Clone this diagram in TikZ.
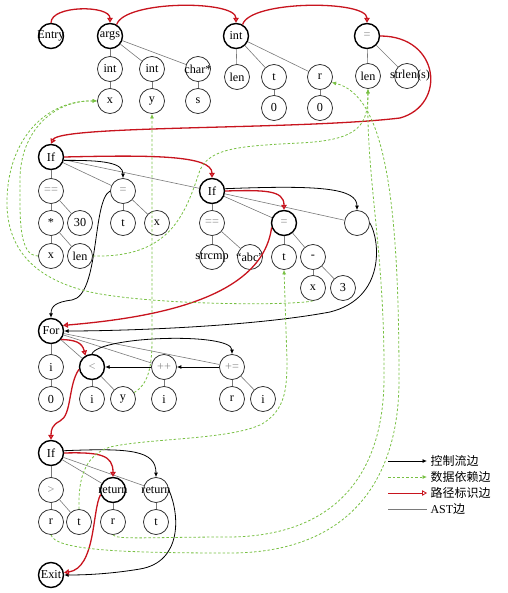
\documentclass[tikz,border=0pt]{standalone}
\usepackage{fontspec}
\setmainfont{Liberation Serif}
\newfontfamily\cjk{Noto Sans CJK SC}
\usetikzlibrary{arrows.meta,positioning}
\definecolor{pathred}{HTML}{C8141E}
\definecolor{depgreen}{HTML}{78C043}
\definecolor{astgray}{HTML}{7A7A7A}
\definecolor{opgray}{HTML}{8C8C8C}
\newcommand{\wide}[1]{\makebox[0pt]{#1}}

\begin{document}
\begin{tikzpicture}[x=1pt,y=-1pt,font=\fontsize{12.2}{13}\selectfont,nd/.style={circle,draw=black!85,line width=.75pt,minimum size=25pt,inner sep=0pt,fill=white},onpath/.style={nd,draw=black,line width=1.4pt},op/.style={text=opgray},ast/.style={astgray,line width=.6pt},ctrl/.style={-{Latex[length=4.5pt,width=4pt]},line width=.8pt},dep/.style={-{Latex[length=4.5pt,width=4pt]},depgreen,line width=.8pt,dash pattern=on 2.5pt off 2pt},route/.style={-{Triangle[open,length=5pt,width=5.5pt]},pathred,line width=1.3pt},legend/.style={anchor=west,font=\cjk\fontsize{12}{13}\selectfont}]
 \useasboundingbox (0,0) rectangle (507,593);
 % declarations
 \node[onpath] (entry) at (51,36) {\wide{Entry}}; \node[onpath] (args) at (110,36) {args};
 \node[onpath] (dint) at (236,36) {int}; \node[onpath,op] (deq) at (367,36) {=};
 \node[nd] (ai1) at (110,69) {int}; \node[nd] (ai2) at (152,69) {int}; \node[nd] (achr) at (198,69) {\wide{char*}};
 \node[nd] (ax) at (110,101) {x}; \node[nd] (ay) at (152,101) {y}; \node[nd] (asv) at (198,101) {s};
 \node[nd] (dlen) at (237,77) {len}; \node[nd] (dt) at (274,77) {t}; \node[nd] (dr) at (320,77) {r};
 \node[nd] (dt0) at (274,108) {0}; \node[nd] (dr0) at (320,108) {0};
 \node[nd] (elen) at (368,76) {len}; \node[nd] (estr) at (407,76) {\wide{\hspace{6pt}strlen(s)}};
 % if blocks
 \node[onpath] (if1) at (51,157) {If};
 \node[nd,op] (c1eq) at (51,191) {==}; \node[nd,op] (as1) at (123,191) {=}; \node[onpath] (if2) at (212,191) {If};
 \node[nd] (c1mul) at (51,223) {*}; \node[nd] (c1n) at (80,223) {30}; \node[nd] (as1t) at (123,223) {t}; \node[nd] (as1x) at (157,223) {x};
 \node[nd] (c1x) at (51,256) {x}; \node[nd] (c1len) at (80,256) {len};
 \node[nd,op] (c2eq) at (212,223) {==}; \node[onpath,op] (as2) at (284,223) {=}; \node[nd] (emp) at (357,223) {};
 \node[nd] (c2cmp) at (212,257) {\wide{strcmp}}; \node[nd] (c2abc) at (250,257) {\wide{“abc”}};
 \node[nd] (as2t) at (284,257) {t}; \node[nd] (as2m) at (313,257) {-};
 \node[nd] (as2x) at (313,288) {x}; \node[nd] (as2n) at (343,288) {3};
 % loop
 \node[onpath] (for) at (51,331) {For};
 \node[nd] (fi) at (51,367) {i}; \node[onpath,op] (lt) at (92,367) {<}; \node[nd,op] (inc) at (164,367) {++}; \node[nd,op] (pe) at (232,367) {+=};
 \node[nd] (fi0) at (51,399) {0}; \node[nd] (lti) at (92,399) {i}; \node[nd] (lty) at (123,399) {y};
 \node[nd] (inci) at (164,399) {i}; \node[nd] (per) at (232,399) {r}; \node[nd] (pei) at (263,399) {i};
 % return
 \node[onpath] (if3) at (51,453) {If};
 \node[nd,op] (gt) at (51,490) {>}; \node[onpath] (ret1) at (113,490) {\wide{return}}; \node[nd] (ret2) at (156,490) {\wide{return}};
 \node[nd] (gtr) at (51,522) {r}; \node[nd] (gtt) at (79,522) {t}; \node[nd] (ret1r) at (113,522) {r}; \node[nd] (ret2t) at (156,522) {t};
 \node[onpath] (exit) at (51,575) {\wide{Exit}};
 % AST edges
 \draw[ast] (args)--(ai1); \draw[ast] (args)--(ai2); \draw[ast] (args)--(achr); \draw[ast] (ai1)--(ax); \draw[ast] (ai2)--(ay); \draw[ast] (achr)--(asv);
 \draw[ast] (dint)--(dlen); \draw[ast] (dint)--(dt); \draw[ast] (dint)--(dr); \draw[ast] (dt)--(dt0); \draw[ast] (dr)--(dr0);
 \draw[ast] (deq)--(elen); \draw[ast] (deq)--(estr);
 \draw[ast] (if1)--(c1eq); \draw[ast] (if1)--(as1); \draw[ast] (if1)--(if2); \draw[ast] (c1eq)--(c1mul); \draw[ast] (c1eq)--(c1n);
 \draw[ast] (c1mul)--(c1x); \draw[ast] (c1mul)--(c1len); \draw[ast] (as1)--(as1t); \draw[ast] (as1)--(as1x);
 \draw[ast] (if2)--(c2eq); \draw[ast] (if2)--(as2); \draw[ast] (if2)--(emp); \draw[ast] (c2eq)--(c2cmp); \draw[ast] (c2eq)--(c2abc);
 \draw[ast] (as2)--(as2t); \draw[ast] (as2)--(as2m); \draw[ast] (as2m)--(as2x); \draw[ast] (as2m)--(as2n);
 \draw[ast] (for)--(fi); \draw[ast] (for)--(lt); \draw[ast] (for)--(inc); \draw[ast] (for)--(pe); \draw[ast] (fi)--(fi0);
 \draw[ast] (lt)--(lti); \draw[ast] (lt)--(lty); \draw[ast] (inc)--(inci); \draw[ast] (pe)--(per); \draw[ast] (pe)--(pei);
 \draw[ast] (if3)--(gt); \draw[ast] (if3)--(ret1); \draw[ast] (if3)--(ret2); \draw[ast] (gt)--(gtr); \draw[ast] (gt)--(gtt);
 \draw[ast] (ret1)--(ret1r); \draw[ast] (ret2)--(ret2t);
 % control flow
 \draw[ctrl] (if1.-15) .. controls (105,160) and (123,163) .. (as1.north);
 \draw[ctrl] (as1.west) .. controls (92,200) and (100,295) .. (72,300) .. controls (56,302) and (51,306) .. (for.north);
 \draw[ctrl] (if2.10) .. controls (320,185) and (357,188) .. (emp.north);
 \draw[ctrl] (emp.east) .. controls (380,240) and (386,298) .. (330,312) .. controls (250,327) and (120,331) .. (for.east);
 \draw[ctrl] (lt.north) .. controls (100,336) and (232,332) .. (pe.north);
 \draw[ctrl] (pe.west)--(inc.east); \draw[ctrl] (inc.west)--(lt.east);
 \draw[ctrl] (if3.10) .. controls (130,448) and (156,450) .. (ret2.north);
 \draw[ctrl] (ret2.east) .. controls (180,515) and (182,562) .. (140,569) .. controls (110,574) and (85,575) .. (exit.east);
 % path marks
 \draw[route] (entry.north) .. controls (51,5) and (110,5) .. (args.north);
 \draw[route] (args.60) .. controls (125,0) and (236,0) .. (dint.north);
 \draw[route] (dint.60) .. controls (250,0) and (367,0) .. (deq.north);
 \draw[route] (deq.east) .. controls (440,36) and (447,105) .. (400,118) .. controls (300,130) and (60,125) .. (if1.north);
 \draw[route] (if1.east) .. controls (150,155) and (212,155) .. (if2.north);
 \draw[route] (if2.east) .. controls (265,190) and (284,190) .. (as2.north);
 \draw[route] (as2.200) .. controls (262,300) and (150,318) .. (for.25);
 \draw[route] (for.-40) .. controls (75,340) and (82,342) .. (lt.120);
 \draw[route] (lt.190) .. controls (68,385) and (72,415) .. (60,421) .. controls (52,425) and (51,430) .. (if3.north);
 \draw[route] (if3.east) .. controls (100,452) and (113,455) .. (ret1.north);
 \draw[route] (ret1.200) .. controls (92,510) and (96,568) .. (exit.10);
 % data dependencies
 \draw[dep] (as2x.south) .. controls (290,306) and (150,305) .. (90,292) .. controls (30,278) and (6,245) .. (7,200) .. controls (8,140) and (45,100) .. (ax.west);
 \draw[dep] (c1x.west) .. controls (18,256) and (20,215) .. (20,180) .. controls (20,130) and (55,100) .. (ax.west);
 \draw[dep] (c1len.east) .. controls (170,258) and (185,215) .. (200,170) .. controls (210,148) and (240,146) .. (300,143) .. controls (360,140) and (368,125) .. (elen.south);
 \draw[dep] (lty.30) .. controls (147,385) and (152,370) .. (152,340) -- (ay.south);
 \draw[dep] (gtt.north) .. controls (78,478) and (85,455) .. (110,447) .. controls (150,438) and (230,440) .. (262,424) .. controls (285,410) and (287,390) .. (287,360) -- (as2t.south);
 \draw[dep] (ret1r.south) .. controls (116,540) and (150,537) .. (230,537) .. controls (330,536) and (383,480) .. (384,380) .. controls (385,250) and (366,180) .. (elen.south);
 \draw[dep] (gtr.south) .. controls (55,550) and (120,553) .. (230,553) .. controls (340,553) and (399,490) .. (399,380) .. controls (399,200) and (385,95) .. (dr.-25);
 % legend
 \node[legend] (lg1) at (427,461) {控制流边}; \node[legend] (lg2) at (427,477) {数据依赖边};
 \node[legend] (lg3) at (427,493) {路径标识边}; \node[legend] (lg4) at (427,509) {\rmfamily AST\cjk 边};
 \coordinate (k1) at (388,461); \coordinate (k2) at (388,477); \coordinate (k3) at (388,493); \coordinate (k4) at (388,509);
 \draw[ctrl] (k1)--(lg1.west); \draw[dep] (k2)--(lg2.west); \draw[route,line width=.8pt] (k3)--(lg3.west); \draw[ast] (k4)--(lg4.west);
\end{tikzpicture}
\end{document}
